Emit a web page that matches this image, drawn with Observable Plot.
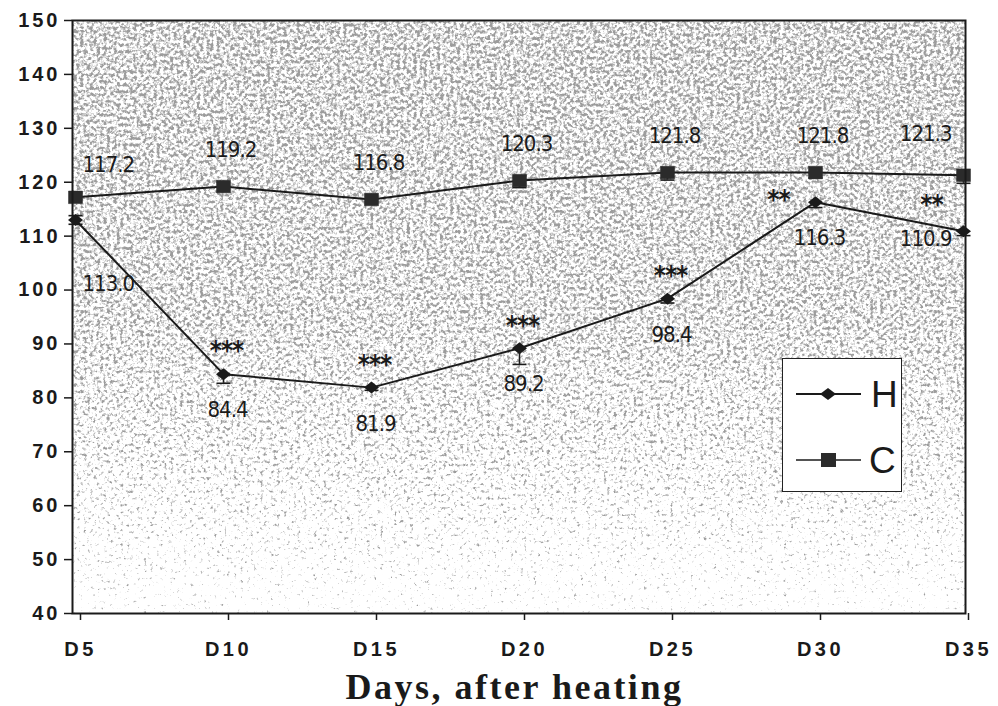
<!DOCTYPE html>
<html>
<head>
<meta charset="utf-8">
<script src="https://cdn.jsdelivr.net/npm/d3@7"></script>
<script src="https://cdn.jsdelivr.net/npm/@observablehq/plot@0.6"></script>
<style>
  html, body { margin: 0; padding: 0; background: #fff; }
  #wrap { position: relative; width: 998px; height: 706px; overflow: hidden; }
  #chart svg { display: block; }
  #chart g[aria-label="y-axis tick label"] { font: bold 20px "Liberation Sans", Arial, sans-serif; letter-spacing: 3px; fill: #1a1a1a; }
  #chart g[aria-label="x-axis tick label"] { font: bold 20px "Liberation Sans", Arial, sans-serif; letter-spacing: 3.5px; fill: #1a1a1a; }
  #chart g[aria-label="text"] { font-family: "DejaVu Sans Condensed", "DejaVu Sans", sans-serif; font-stretch: condensed; letter-spacing: -1px; }
  #title {
    position: absolute; left: 0; top: 666px; width: 1029px; text-align: center;
    font: bold 36px "Liberation Serif", "Times New Roman", serif; letter-spacing: 2.5px; color: #1a1a1a;
  }
  #legend {
    position: absolute; left: 782px; top: 358px; width: 118px; height: 132px;
    border: 1.5px solid #222; background: #fff;
  }
  #legend svg { display: block; }
  #legend text { font: 37px "Liberation Sans", Arial, sans-serif; fill: #1a1a1a; }
</style>
</head>
<body>
<div id="wrap">
  <div id="chart"></div>
  <div id="title">Days, after heating</div>
  <div id="legend"></div>
</div>
<script>
// Measurements per sampling day for the heated (H) and control (C) groups
const days = ["D5", "D10", "D15", "D20", "D25", "D30", "D35"];
const heated = [113.0, 84.4, 81.9, 89.2, 98.4, 116.3, 110.9];
const control = [117.2, 119.2, 116.8, 120.3, 121.8, 121.8, 121.3];
// Error bar lengths (lower side; D5 heated also shows an upper bar)
const heatedErrLow = [0.8, 1.7, 0.5, 3.0, 0.8, 1.0, 0.8];
const heatedErrHigh = [0.8, 0, 0, 0, 0, 0, 0];
const controlErrLow = [0, 0, 0, 1.3, 1.4, 1.0, 1.5];
// Significance of H vs C on each day
const significance = ["", "***", "***", "***", "***", "**", "**"];
const yTicks = [40, 50, 60, 70, 80, 90, 100, 110, 120, 130, 140, 150];

const ink = "#1a1a1a";
const last = days.length - 1;

const hRows = days.map((day, i) => ({i, day, value: heated[i], lo: heatedErrLow[i], hi: heatedErrHigh[i], sig: significance[i]}));
const cRows = days.map((day, i) => ({i, day, value: control[i], lo: controlErrLow[i], hi: 0}));

// custom marker shapes
const capSymbol = {draw(ctx, size) { const w = Math.sqrt(size / Math.PI); ctx.moveTo(-w, 0); ctx.lineTo(w, 0); }};
const diamondSymbol = {draw(ctx, size) { const w = Math.sqrt(size / Math.PI); const h = w * 0.8; ctx.moveTo(-w, 0); ctx.lineTo(0, -h); ctx.lineTo(w, 0); ctx.lineTo(0, h); ctx.closePath(); }};
const squareSymbol = {draw(ctx, size) { const w = Math.sqrt(size / Math.PI); ctx.rect(-w, -w * 0.9, 2 * w, 1.8 * w); }};

function errorMarks(rows) {
  const low = rows.filter(r => r.lo > 0);
  const high = rows.filter(r => r.hi > 0);
  return [
    Plot.ruleX(low, {x: "day", y1: "value", y2: r => r.value - r.lo, stroke: ink, strokeWidth: 1.6}),
    Plot.dot(low, {x: "day", y: r => r.value - r.lo, symbol: capSymbol, r: 7, stroke: ink, strokeWidth: 1.6}),
    Plot.ruleX(high, {x: "day", y1: "value", y2: r => r.value + r.hi, stroke: ink, strokeWidth: 1.6}),
    Plot.dot(high, {x: "day", y: r => r.value + r.hi, symbol: capSymbol, r: 7, stroke: ink, strokeWidth: 1.6})
  ];
}

const fmt = r => r.value.toFixed(1);
const labelStyle = {x: "day", y: "value", text: fmt, fontSize: 22, fill: ink};
const starStyle = {x: "day", y: "value", text: "sig", fontSize: 26, fontWeight: "bold", fill: ink};

const chart = Plot.plot({
  width: 998,
  height: 668,
  marginLeft: 72,
  marginRight: 33,
  marginTop: 20,
  marginBottom: 55,
  x: {type: "point", domain: days, padding: 0, label: null},
  y: {domain: [40, 150], label: null},
  marks: [
    Plot.frame({fill: "#fff"}),   // speckled plot-area texture
    Plot.axisY({ticks: yTicks, tickSize: 8, tickPadding: 4, label: null, stroke: ink, strokeWidth: 1.5}),
    Plot.axisX({tickSize: 7, tickPadding: 21, label: null, stroke: ink, strokeWidth: 1.5, dx: 5}),
    Plot.line(cRows, {x: "day", y: "value", stroke: ink, strokeWidth: 2}),
    Plot.line(hRows, {x: "day", y: "value", stroke: ink, strokeWidth: 2}),
    ...errorMarks(cRows),
    ...errorMarks(hRows),
    Plot.dot(cRows, {x: "day", y: "value", symbol: squareSymbol, r: 7, fill: "#2b2b2b", stroke: "#2b2b2b", strokeWidth: 0.5}),
    Plot.dot(hRows, {x: "day", y: "value", symbol: diamondSymbol, r: 7.5, fill: ink}),
    // control values above the points
    Plot.text(cRows.filter(r => r.i === 0), {...labelStyle, textAnchor: "start", dx: 7, dy: -32}),
    Plot.text(cRows.filter(r => r.i > 0 && r.i < last), {...labelStyle, dx: 7, dy: -37}),
    Plot.text(cRows.filter(r => r.i === last), {...labelStyle, textAnchor: "end", dx: -12, dy: -41}),
    // heated values below the points
    Plot.text(hRows.filter(r => r.i === 0), {...labelStyle, textAnchor: "start", dx: 7, dy: 64}),
    Plot.text(hRows.filter(r => r.i > 0 && r.i < last), {...labelStyle, dx: 4, dy: 36}),
    Plot.text(hRows.filter(r => r.i === last), {...labelStyle, textAnchor: "end", dx: -12, dy: 8}),
    // significance stars
    Plot.text(hRows.filter(r => r.sig === "***"), {...starStyle, dx: 3, dy: -22}),
    Plot.text(hRows.filter(r => r.sig === "**" && r.i < last), {...starStyle, dx: -37, dy: -2}),
    Plot.text(hRows.filter(r => r.sig === "**" && r.i === last), {...starStyle, dx: -32, dy: -26}),
    Plot.frame({stroke: ink, strokeWidth: 2})
  ]
});

document.getElementById("chart").appendChild(chart);

// plot-area texture: soft grey speckle, dense at the top and thinning toward the bottom
const svg = d3.select(chart);
const defs = svg.insert("defs", ":first-child");
const filter = defs.append("filter").attr("id", "grain")
  .attr("x", "0%").attr("y", "0%").attr("width", "100%").attr("height", "100%")
  .attr("color-interpolation-filters", "sRGB");
filter.append("feTurbulence").attr("type", "fractalNoise").attr("baseFrequency", "0.3")
  .attr("numOctaves", 3).attr("seed", 11).attr("result", "noise");
filter.append("feColorMatrix").attr("in", "noise").attr("type", "matrix")
  .attr("values", "1 0 0 0 0  0 1 0 0 0  0 0 1 0 0  0 0 0 0 1").attr("result", "opaque");
filter.append("feComposite").attr("in", "opaque").attr("in2", "SourceGraphic").attr("operator", "arithmetic")
  .attr("k1", 0).attr("k2", 1).attr("k3", -0.35).attr("k4", 0.35).attr("result", "mixed");
filter.append("feColorMatrix").attr("in", "mixed").attr("type", "matrix")
  .attr("values", "0 0 0 0 0.45  0 0 0 0 0.45  0 0 0 0 0.45  3 0 0 0 -2.3").attr("result", "dots");
filter.append("feGaussianBlur").attr("in", "dots").attr("stdDeviation", 0.35).attr("result", "soft");
filter.append("feFlood").attr("flood-color", "#fff").attr("result", "paper");
filter.append("feComposite").attr("in", "soft").attr("in2", "paper").attr("operator", "over");
// density ramp read by the filter: dark = dense speckle
const ramp = defs.append("linearGradient").attr("id", "ramp").attr("x1", 0).attr("y1", 0).attr("x2", 0).attr("y2", 1);
ramp.append("stop").attr("offset", "0%").attr("stop-color", "#000");
ramp.append("stop").attr("offset", "50%").attr("stop-color", "#181818");
ramp.append("stop").attr("offset", "72%").attr("stop-color", "#505050");
ramp.append("stop").attr("offset", "100%").attr("stop-color", "#c8c8c8");

const frames = svg.selectAll('[aria-label="frame"]').nodes().map(n => n.tagName.toLowerCase() === "rect" ? n : n.querySelector("rect"));
d3.select(frames[0]).attr("fill", "url(#ramp)").attr("filter", "url(#grain)");

// legend box
const legend = d3.select("#legend").append("svg").attr("width", 118).attr("height", 132);
legend.append("line").attr("x1", 13).attr("x2", 78).attr("y1", 35).attr("y2", 35).attr("stroke", ink).attr("stroke-width", 2);
legend.append("path").attr("d", "M37,35 L45,29 L53,35 L45,41 Z").attr("fill", ink);
legend.append("text").attr("x", 88).attr("y", 48).text("H");
legend.append("line").attr("x1", 13).attr("x2", 78).attr("y1", 101).attr("y2", 101).attr("stroke", ink).attr("stroke-width", 1.5);
legend.append("rect").attr("x", 38).attr("y", 94).attr("width", 15).attr("height", 14).attr("fill", "#2b2b2b");
legend.append("text").attr("x", 86).attr("y", 114).text("C");
</script>
</body>
</html>
